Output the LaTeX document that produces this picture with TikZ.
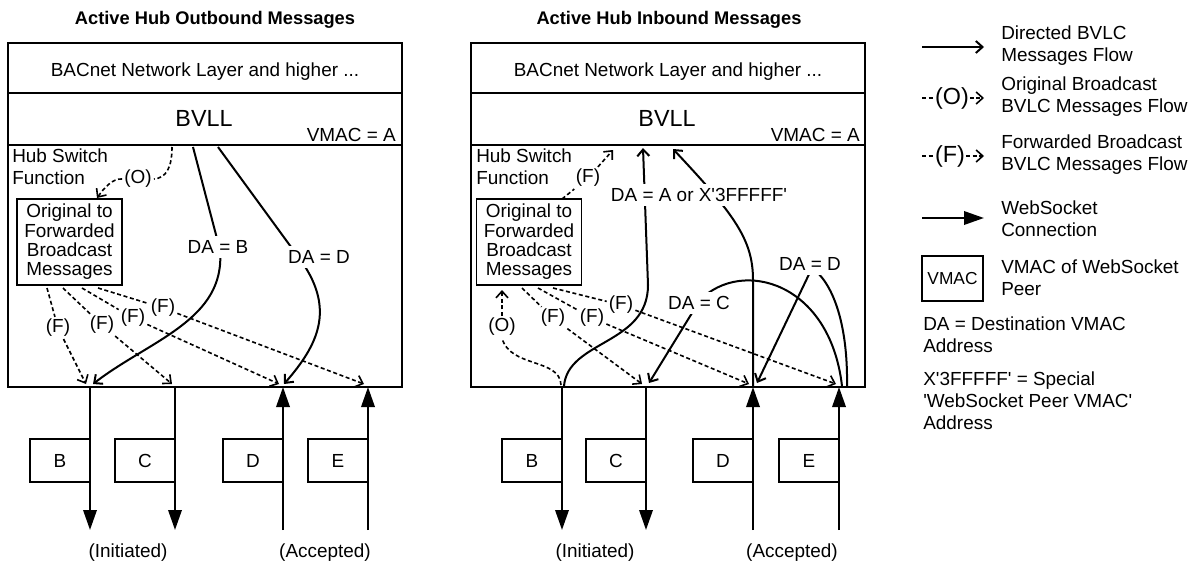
\documentclass[tikz,border=0pt]{standalone}
\usepackage{fontspec}
\setmainfont{Liberation Sans}
\usetikzlibrary{arrows.meta}
\newcommand\sq{\textquotesingle}

\begin{document}
\begin{tikzpicture}[x=0.75pt, y=-0.75pt,
  txt/.style={font=\fontsize{14.2}{16}\selectfont, inner sep=1.5pt},
  onl/.style={txt, fill=white, inner sep=3pt},
  bigtxt/.style={font=\fontsize{17.5}{20}\selectfont, inner sep=0pt},
  ttl/.style={font=\bfseries\fontsize{13.7}{16}\selectfont, inner sep=0pt},
  layer/.style={line width=1.1pt},
  funcbox/.style={draw, line width=1pt, minimum width=78.75pt, minimum height=64.5pt,
    inner sep=0pt, align=center, font=\fontsize{14.2}{14.5}\selectfont},
  peer/.style={draw, line width=1pt, minimum width=45pt, minimum height=32.25pt,
    inner sep=0pt, font=\fontsize{14.2}{16}\selectfont},
  msg/.style={line width=1.5pt, -{Straight Barb[length=5pt,width=9pt]}},
  bcline/.style={line width=1.2pt, dash pattern=on 3pt off 2pt},
  bc/.style={bcline, -{Straight Barb[length=5pt,width=9pt]}},
  ws/.style={line width=1.8pt, -{Triangle[length=15pt,width=10pt]}},
  note/.style={font=\fontsize{14.2}{16.5}\selectfont, align=left, anchor=west, inner sep=0pt},
  legsym/.style={font=\fontsize{17.5}{20}\selectfont, inner sep=0.5pt},
]
\useasboundingbox (0,0) rectangle (1195,564);

% ---------------- Outbound panel ----------------
\node[ttl, anchor=base] (Ltitle) at (215,24) {Active Hub Outbound Messages};
\draw[layer] (8,43) rectangle (402,387);
\draw[layer] (8,93) -- (402,93) (8,145) -- (402,145);
\node[txt, anchor=base] (Lnet) at (205,76) {BACnet Network Layer and higher ...};
\node[bigtxt, anchor=base] (Lbvll) at (204,126) {BVLL};
\node[txt, inner sep=0pt, anchor=base east] (Lvmac) at (396,141) {VMAC = A};
\node[txt, inner sep=0pt, anchor=north west, align=left] (Lhub) at (12,149) {Hub Switch\\Function};
\node[funcbox] (Lorig) at (69.5,242) {Original to\\Forwarded\\Broadcast\\Messages};

\node[peer] (LB) at (60,460.5) {B};
\node[peer] (LC) at (145,460.5) {C};
\node[peer] (LD) at (253,460.5) {D};
\node[peer] (LE) at (338,460.5) {E};
\coordinate (LBt) at (90,387);  \coordinate (LBb) at (90,530);
\coordinate (LCt) at (175,387); \coordinate (LCb) at (175,530);
\coordinate (LDt) at (283,387); \coordinate (LDb) at (283,530);
\coordinate (LEt) at (368,387); \coordinate (LEb) at (368,530);
\draw[ws] (LBt) -- (LBb);
\draw[ws] (LCt) -- (LCb);
\draw[ws] (LDb) -- (LDt);
\draw[ws] (LEb) -- (LEt);
\node[txt] (Linit) at (128,553) {(Initiated)};
\node[txt] (Lacc) at (325,553) {(Accepted)};

% original broadcast from the BVLL into the hub function
\node[txt] (LO) at (138,179) {(O)};
\coordinate (LOs) at (172,147);
\coordinate (LOe) at (97,198);
\draw[bcline] (LOs) .. controls (172,168) and (166,178) .. (LO.east);
\draw[bc] (LO.west) .. controls (113,178) and (104,188) .. (LOe);

% directed messages to B and D
\coordinate (LBs) at (193,147);
\coordinate (LBe) at (93,384);
\coordinate (LDs) at (218,147);
\coordinate (LDe) at (284,384);
\draw[msg] (LBs) -- (220,250) .. controls (226,320) and (150,340) .. (LBe);
\draw[msg] (LDs) -- (302,262) .. controls (335,310) and (318,345) .. (LDe);
\node[onl] (LDB) at (218,247) {DA = B};
\node[onl] (LDD) at (319,257) {DA = D};

% forwarded broadcasts to every peer
\node[txt] (LF1) at (58,328) {(F)};
\node[txt] (LF2) at (102,325) {(F)};
\node[txt] (LF3) at (133,318) {(F)};
\node[txt] (LF4) at (163,308) {(F)};
\coordinate (LF1s) at (47,288);  \coordinate (LF1e) at (86,384);
\coordinate (LF2s) at (63,288);  \coordinate (LF2e) at (172,384);
\coordinate (LF3s) at (82,288);  \coordinate (LF3e) at (279,384);
\coordinate (LF4s) at (98,288);  \coordinate (LF4e) at (364,384);
\draw[bcline] (LF1s) -- (LF1); \draw[bc] (LF1) -- (LF1e);
\draw[bcline] (LF2s) -- (LF2); \draw[bc] (LF2) -- (LF2e);
\draw[bcline] (LF3s) -- (LF3); \draw[bc] (LF3) -- (LF3e);
\draw[bcline] (LF4s) -- (LF4); \draw[bc] (LF4) -- (LF4e);

% ---------------- Inbound panel ----------------
\node[ttl, anchor=base] (Rtitle) at (669,24) {Active Hub Inbound Messages};
\draw[layer] (471,43) rectangle (865,387);
\draw[layer] (471,93) -- (865,93) (471,145) -- (865,145);
\node[txt, anchor=base] (Rnet) at (668,76) {BACnet Network Layer and higher ...};
\node[bigtxt, anchor=base] (Rbvll) at (667,126) {BVLL};
\node[txt, inner sep=0pt, anchor=base east] (Rvmac) at (860,141) {VMAC = A};
\node[txt, inner sep=0pt, anchor=north west, align=left] (Rhub) at (476,149) {Hub Switch\\Function};
\node[funcbox] (Rorig) at (529,242) {Original to\\Forwarded\\Broadcast\\Messages};

\node[peer] (RB) at (532,460.5) {B};
\node[peer] (RC) at (616,460.5) {C};
\node[peer] (RD) at (723,460.5) {D};
\node[peer] (RE) at (809,460.5) {E};
\coordinate (RBt) at (562,387); \coordinate (RBb) at (562,530);
\coordinate (RCt) at (646,387); \coordinate (RCb) at (646,530);
\coordinate (RDt) at (753,387); \coordinate (RDb) at (753,530);
\coordinate (REt) at (839,387); \coordinate (REb) at (839,530);
\draw[ws] (RBt) -- (RBb);
\draw[ws] (RCt) -- (RCb);
\draw[ws] (RDb) -- (RDt);
\draw[ws] (REb) -- (REt);
\node[txt] (Rinit) at (595,553) {(Initiated)};
\node[txt] (Racc) at (792,553) {(Accepted)};

% original broadcast from B into the hub function
\node[txt] (RO) at (502,327) {(O)};
\coordinate (ROs) at (561,385);
\coordinate (ROe) at (502,290);
\draw[bcline] (ROs) .. controls (560,358) and (510,368) .. (RO.south);
\draw[bc] (RO.north) -- (ROe);

% forwarded broadcast up to the BVLL
\node[txt] (RF0) at (588,178) {(F)};
\coordinate (RF0s) at (562,199);
\coordinate (RF0e) at (613,150);
\draw[bcline] (RF0s) -- (RF0);
\draw[bc] (RF0) -- (RF0e);

% forwarded broadcasts to the other peers
\node[txt] (RF1) at (553,318) {(F)};
\node[txt] (RF2) at (592,318) {(F)};
\node[txt] (RF3) at (621,305) {(F)};
\coordinate (RF1s) at (522,288); \coordinate (RF1e) at (642,384);
\coordinate (RF2s) at (538,288); \coordinate (RF2e) at (749,384);
\coordinate (RF3s) at (553,288); \coordinate (RF3e) at (836,384);
\draw[bcline] (RF1s) -- (RF1); \draw[bc] (RF1) -- (RF1e);
\draw[bcline] (RF2s) -- (RF2); \draw[bc] (RF2) -- (RF2e);
\draw[bcline] (RF3s) -- (RF3); \draw[bc] (RF3) -- (RF3e);

% directed messages
\coordinate (RUs) at (564,386);  \coordinate (RUe) at (643,148);
\coordinate (RVs) at (753,386);  \coordinate (RVe) at (673,149);
\coordinate (RCs) at (842,386);  \coordinate (RCe) at (649,383);
\coordinate (RDs) at (847,386);  \coordinate (RDe) at (757,383);
\draw[msg] (RUs) .. controls (568,340) and (648,345) .. (648,285) -- (RUe);
\draw[msg] (RVs) -- (753,280) .. controls (753,240) and (735,215) .. (RVe);
\draw[msg] (RCs) .. controls (830,282) and (742,258) .. (700,300) -- (RCe);
\draw[msg] (RDs) .. controls (848,322) and (832,282) .. (812,268) -- (RDe);
\node[onl] (RDA) at (699,195) {DA = A or X\sq 3FFFFF\sq};
\node[onl] (RDC) at (699,303) {DA = C};
\node[onl] (RDD) at (810,264) {DA = D};

% ---------------- Legend ----------------
\coordinate (K1s) at (922,47);  \coordinate (K1e) at (984,47);
\draw[msg] (K1s) -- (K1e);
\node[note] (K1t) at (1001,46) {Directed BVLC\\Messages Flow};

\node[legsym] (K2o) at (952,98) {(O)};
\coordinate (K2s) at (922,98); \coordinate (K2e) at (984,98);
\draw[bcline] (K2s) -- (K2o.west);
\draw[bc] (K2o.east) -- (K2e);
\node[note] (K2t) at (1001,97) {Original Broadcast\\BVLC Messages Flow};

\node[legsym] (K3f) at (950,156) {(F)};
\coordinate (K3s) at (922,156); \coordinate (K3e) at (984,156);
\draw[bcline] (K3s) -- (K3f.west);
\draw[bc] (K3f.east) -- (K3e);
\node[note] (K3t) at (1001,155) {Forwarded Broadcast\\BVLC Messages Flow};

\coordinate (K4s) at (922,218); \coordinate (K4e) at (984,218);
\draw[ws] (K4s) -- (K4e);
\node[note] (K4t) at (1001,219) {WebSocket\\Connection};

\node[peer, font=\fontsize{13}{15}\selectfont, minimum width=45.75pt, minimum height=33.75pt] (K5b) at (952.5,278.5) {VMAC};
\node[note] (K5t) at (1001,278) {VMAC of WebSocket\\Peer};

\node[note] (K6t) at (923,335) {DA = Destination VMAC\\Address};
\node[note] (K7t) at (923,401) {X\sq 3FFFFF\sq{} = Special\\\sq WebSocket Peer VMAC\sq\\Address};
\end{tikzpicture}
\end{document}
